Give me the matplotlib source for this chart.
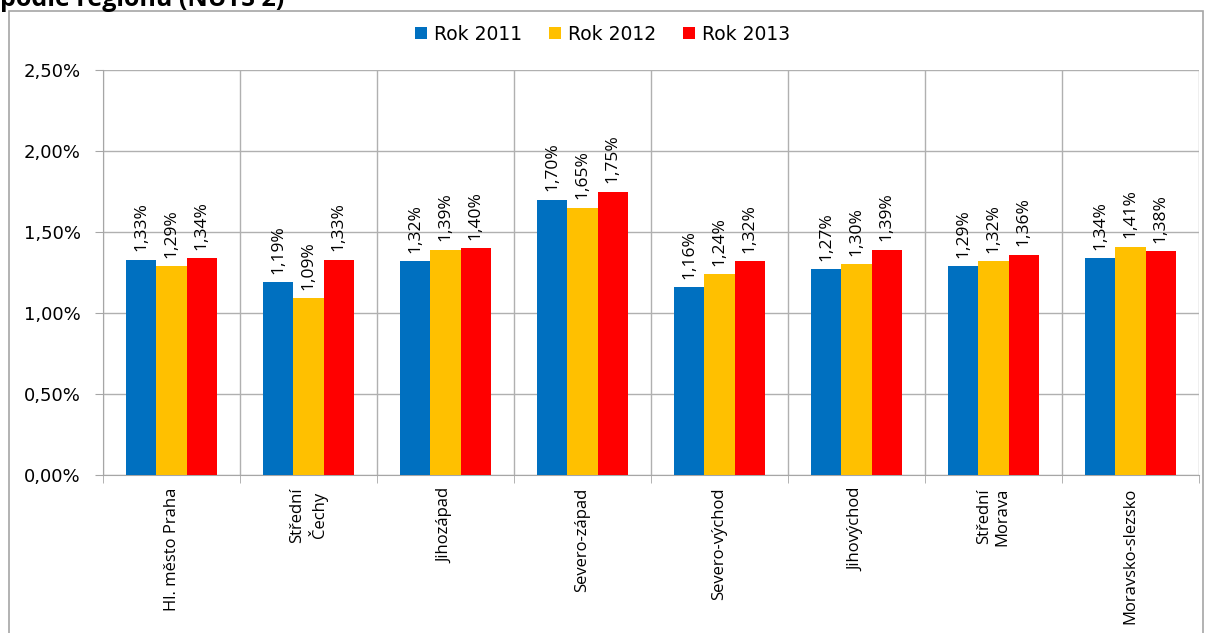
import numpy as np
import matplotlib.pyplot as plt
from matplotlib.patches import Rectangle

# Data
regiony = ["Hl. město Praha", "Střední\nČechy", "Jihozápad", "Severo-západ",
           "Severo-východ", "Jihovýchod", "Střední\nMorava", "Moravsko-slezsko"]
rok_2011 = [1.33, 1.19, 1.32, 1.70, 1.16, 1.27, 1.29, 1.34]
rok_2012 = [1.29, 1.09, 1.39, 1.65, 1.24, 1.30, 1.32, 1.41]
rok_2013 = [1.34, 1.33, 1.40, 1.75, 1.32, 1.39, 1.36, 1.38]
nazvy_rad = ["Rok 2011", "Rok 2012", "Rok 2013"]
barvy = ["#0070C0", "#FFC000", "#FF0000"]

fig = plt.figure(figsize=(12.05, 6.33), dpi=100)
ax = fig.add_axes([103 / 1205, 1 - 475 / 633, (1199 - 103) / 1205, (475 - 70) / 633])

# rámeček grafu a useknutý nadpis (v originále je nadpis nahoře oříznutý)
fig.patches.append(Rectangle((9 / 1205, -0.01), (1203 - 9) / 1205, 1 - 11 / 633 + 0.01,
                             transform=fig.transFigure, fill=False,
                             edgecolor="#a6a6a6", linewidth=1.2))
fig.text(0.0, 1 - 6 / 633, "podle regionů (NUTS 2)", fontsize=18, fontweight="bold",
         family="Open Sans", va="baseline", ha="left")

x = np.arange(len(regiony))
sirka = 0.222
for i, (hodnoty, nazev, barva) in enumerate(zip([rok_2011, rok_2012, rok_2013], nazvy_rad, barvy)):
    pozice = x + (i - 1) * sirka
    ax.bar(pozice, hodnoty, width=sirka, color=barva, label=nazev, zorder=3)
    for px, h in zip(pozice, hodnoty):
        ax.annotate(f"{h:.2f}%".replace(".", ","), (px, h), xytext=(0, 6),
                    textcoords="offset points", rotation=90, ha="center", va="bottom",
                    fontsize=12.5, family="Open Sans")

ax.set_xlim(-0.5, len(regiony) - 0.5)
ax.set_ylim(0, 2.5)
ax.set_yticks(np.arange(0, 2.51, 0.5))
ax.set_yticklabels([f"{v:.2f}%".replace(".", ",") for v in np.arange(0, 2.51, 0.5)],
                   fontsize=13)
ax.set_xticks(x)
ax.set_xticklabels(regiony, rotation=90, fontsize=12, family="Open Sans",
                   va="top", ha="center", multialignment="center")
ax.tick_params(axis="x", length=0, pad=9)
ax.set_xticks(np.arange(-0.5, len(regiony)), minor=True)
ax.tick_params(axis="x", which="minor", length=6, color="#a6a6a6")
ax.tick_params(axis="y", length=6, color="#a6a6a6", pad=10)

ax.grid(axis="y", color="#b0b0b0", linewidth=1, zorder=0)
ax.grid(axis="x", which="minor", color="#b0b0b0", linewidth=1, zorder=0)
for s in ["top", "right"]:
    ax.spines[s].set_visible(False)
for s in ["left", "bottom"]:
    ax.spines[s].set_color("#a6a6a6")

fig.legend(loc="center", bbox_to_anchor=(0.5, 1 - 34 / 633), ncol=3, frameon=False,
           fontsize=13.5, handlelength=0.65, handleheight=0.65, columnspacing=1.4,
           handletextpad=0.4)

fig.savefig("out.png", dpi=100)
